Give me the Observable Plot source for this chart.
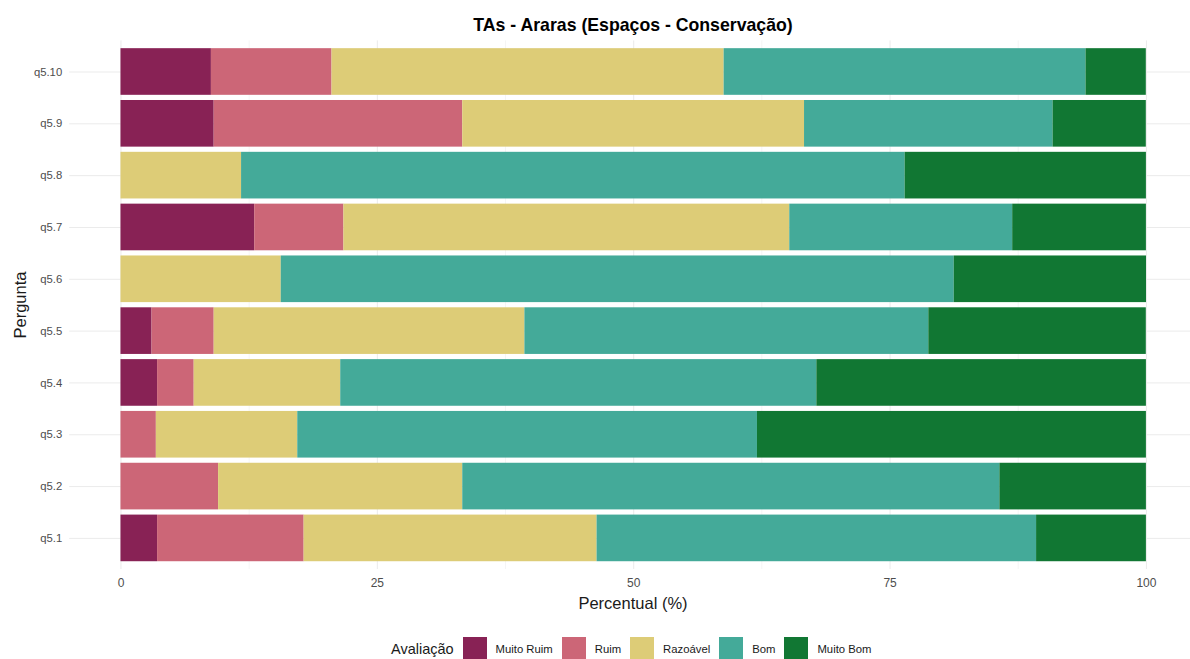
<!DOCTYPE html>
<html>
<head>
<meta charset="utf-8">
<script src="https://cdn.jsdelivr.net/npm/d3@7"></script>
<script src="https://cdn.jsdelivr.net/npm/@observablehq/plot@0.6"></script>
<style>
  html, body { margin: 0; padding: 0; background: #fff; }
  body { font-family: "Liberation Sans", Arial, sans-serif; }
  #wrap { position: relative; width: 1190px; height: 659px; overflow: hidden; }
  #title { position: absolute; left: 0; width: 1266px; top: 14px; text-align: center;
           font-size: 17.7px; font-weight: bold; color: #000; line-height: 22px; }
  #xtitle { position: absolute; left: 0; width: 1266px; top: 594px; text-align: center;
            font-size: 16.5px; color: #1a1a1a; line-height: 19px; }
  #ytitle { position: absolute; left: 20px; top: 305px; font-size: 16.5px; color: #1a1a1a;
            transform: translate(-50%, -50%) rotate(-90deg); white-space: nowrap; line-height: 19px; }
  #legend { position: absolute; left: 391px; top: 637px; display: flex; align-items: center; height: 24px; }
  #legend .lt { font-size: 14.5px; color: #1a1a1a; margin-right: 9px; }
  #legend .sw { width: 24px; height: 24px; }
  #legend .lab { font-size: 11.3px; color: #1a1a1a; margin-left: 9px; margin-right: 9px; }
  #chart { position: absolute; left: 0; top: 0; }
</style>
</head>
<body>
<div id="wrap">
  <div id="chart"></div>
  <div id="title">TAs - Araras (Espaços - Conservação)</div>
  <div id="xtitle">Percentual (%)</div>
  <div id="ytitle">Pergunta</div>
  <div id="legend"></div>
</div>
<script>
// Questions (bottom to top as in the chart)
const questions = ["q5.1", "q5.2", "q5.3", "q5.4", "q5.5", "q5.6", "q5.7", "q5.8", "q5.9", "q5.10"];
// Rating categories (stack order, left to right)
const categories = ["Muito Ruim", "Ruim", "Razoável", "Bom", "Muito Bom"];
const colors = ["#882255", "#CC6677", "#DDCC77", "#44AA99", "#117733"];

// Percentages per question, in the order of `questions`
const muitoRuim = [3.57, 0, 0, 3.57, 3.03, 0, 13.04, 0, 9.09, 8.82];
const ruim      = [14.29, 9.52, 3.45, 3.57, 6.06, 0, 8.70, 0, 24.24, 11.76];
const razoavel  = [28.57, 23.81, 13.79, 14.29, 30.30, 15.63, 43.48, 11.76, 33.33, 38.24];
const bom       = [42.86, 52.38, 44.83, 46.43, 39.39, 65.63, 21.74, 64.71, 24.24, 35.29];
const muitoBom  = [10.71, 14.29, 37.93, 32.14, 21.21, 18.75, 13.04, 23.53, 9.09, 5.88];

const xTicks = [0, 25, 50, 75, 100];
const xMinor = [12.5, 37.5, 62.5, 87.5];

const series = [muitoRuim, ruim, razoavel, bom, muitoBom];
const rows = [];
questions.forEach((q, i) => {
  categories.forEach((c, j) => {
    rows.push({ q, c, v: series[j][i] });
  });
});

const chart = Plot.plot({
  width: 1190,
  height: 600,
  marginTop: 40.4,
  marginBottom: 31,
  marginLeft: 69.2,
  marginRight: 0,
  style: { fontFamily: "'Liberation Sans', Arial, sans-serif", background: "transparent" },
  x: { domain: [-5, 104.3] },
  y: { domain: questions.slice().reverse(), paddingInner: 0.1, paddingOuter: 0.15, round: false },
  color: { domain: categories, range: colors },
  marks: [
    Plot.gridX(xMinor, { stroke: "#f2f2f2", strokeOpacity: 1, strokeWidth: 0.8 }),
    Plot.gridX(xTicks, { stroke: "#ebebeb", strokeOpacity: 1, strokeWidth: 1 }),
    Plot.gridY({ stroke: "#ebebeb", strokeOpacity: 1, strokeWidth: 1 }),
    Plot.barX(rows, Plot.stackX({ x: "v", y: "q", fill: "c", order: categories })),
    Plot.axisX(xTicks, { tickSize: 0, tickPadding: 9, fontSize: 12, fill: "#4d4d4d", label: null }),
    Plot.axisY({ tickSize: 0, tickPadding: 7.5, fontSize: 11.3, fill: "#4d4d4d", label: null })
  ]
});
document.getElementById("chart").appendChild(chart);

// Legend
const legend = document.getElementById("legend");
const lt = document.createElement("span");
lt.className = "lt";
lt.textContent = "Avaliação";
legend.appendChild(lt);
categories.forEach((c, j) => {
  const sw = document.createElement("span");
  sw.className = "sw";
  sw.style.background = colors[j];
  legend.appendChild(sw);
  const lab = document.createElement("span");
  lab.className = "lab";
  lab.textContent = c;
  legend.appendChild(lab);
});
</script>
</body>
</html>
